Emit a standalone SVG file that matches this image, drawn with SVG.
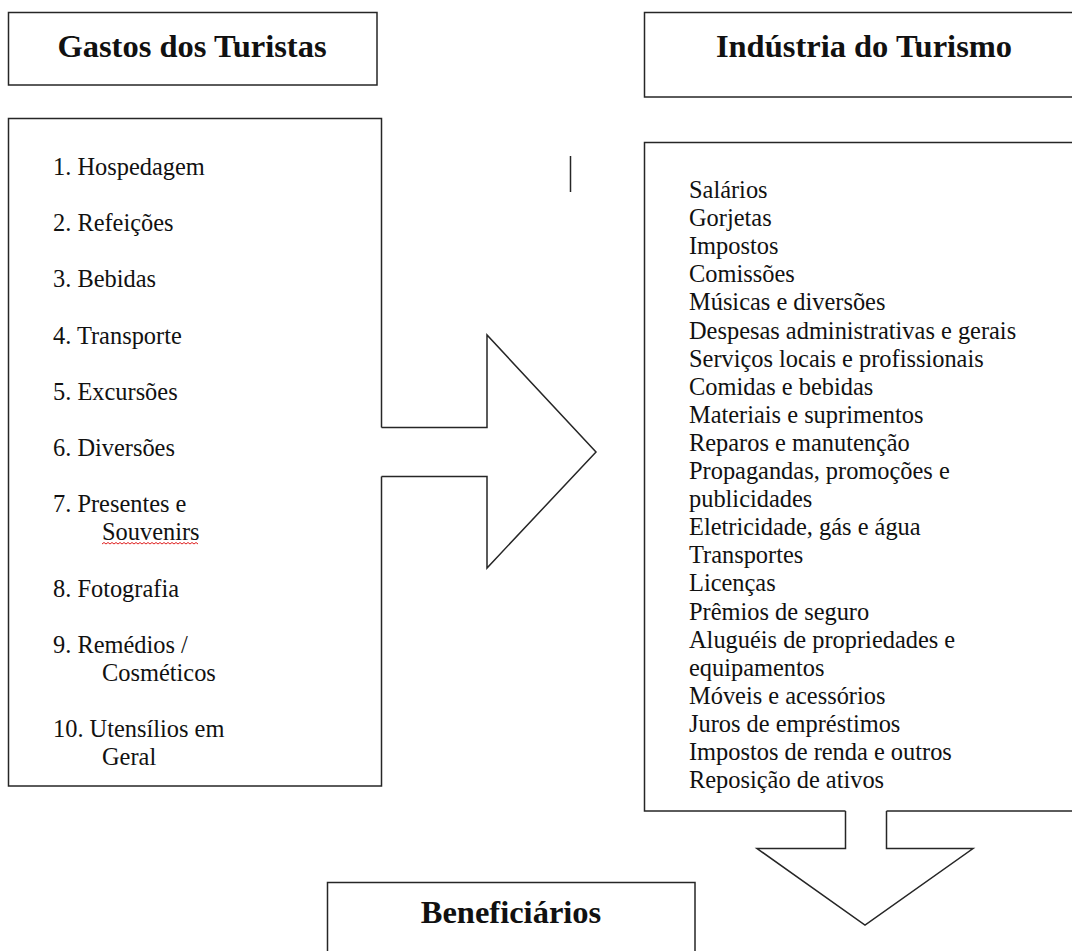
<svg xmlns="http://www.w3.org/2000/svg" width="1072" height="951" viewBox="0 0 1072 951">
<style>
.box{fill:#fff;stroke:#262626;stroke-width:1.5}
.edge{fill:none;stroke:#262626;stroke-width:1.5;stroke-linejoin:miter}
.cover{fill:#fff;stroke:none}
.title{font-family:"Liberation Serif","Times New Roman",serif;font-weight:bold;font-size:32.5px;fill:#111;text-anchor:middle}
.item{font-family:"Liberation Serif","Times New Roman",serif;font-size:24.4px;fill:#111}
</style>
<rect width="1072" height="951" fill="#fff"/>
<g id="node-gastos-title">
<rect class="box" x="8.5" y="12.5" width="368.5" height="72.5"/>
<text class="title" x="192" y="57">Gastos dos Turistas</text>
</g>
<g id="node-industria-title">
<rect class="box" x="644.5" y="12.5" width="440" height="84.5"/>
<text class="title" x="864" y="57">Indústria do Turismo</text>
</g>
<g id="node-gastos-list">
<rect class="box" x="8.5" y="118.5" width="373" height="667.5"/>
<text class="item" x="53" y="175">1. Hospedagem</text>
<text class="item" x="53" y="231">2. Refeições</text>
<text class="item" x="53" y="287">3. Bebidas</text>
<text class="item" x="53" y="343.5">4. Transporte</text>
<text class="item" x="53" y="399.5">5. Excursões</text>
<text class="item" x="53" y="456">6. Diversões</text>
<text class="item" x="53" y="512">7. Presentes e</text>
<text class="item" x="102" y="540">Souvenirs</text>
<path d="M102,544 l2,-1.5 l2,1.5 l2,-1.5 l2,1.5 l2,-1.5 l2,1.5 l2,-1.5 l2,1.5 l2,-1.5 l2,1.5 l2,-1.5 l2,1.5 l2,-1.5 l2,1.5 l2,-1.5 l2,1.5 l2,-1.5 l2,1.5 l2,-1.5 l2,1.5 l2,-1.5 l2,1.5 l2,-1.5 l2,1.5 l2,-1.5 l2,1.5 l2,-1.5 l2,1.5 l2,-1.5 l2,1.5 l2,-1.5 l2,1.5 l2,-1.5 l2,1.5 l2,-1.5 l2,1.5 l2,-1.5 l2,1.5 l2,-1.5 l2,1.5 l2,-1.5 l2,1.5 l2,-1.5 l2,1.5 l2,-1.5 l2,1.5 l2,-1.5 l2,1.5" fill="none" stroke="#e02020" stroke-width="1"/>
<text class="item" x="53" y="596.5">8. Fotografia</text>
<text class="item" x="53" y="652.5">9. Remédios /</text>
<text class="item" x="102" y="680.5">Cosméticos</text>
<text class="item" x="53" y="737">10. Utensílios em</text>
<text class="item" x="102" y="765">Geral</text>
</g>
<g id="node-industria-list">
<rect class="box" x="644.5" y="142.5" width="440" height="668.5"/>
<text class="item" x="689">
<tspan x="689" y="198">Salários</tspan>
<tspan x="689" y="226.1">Gorjetas</tspan>
<tspan x="689" y="254.2">Impostos</tspan>
<tspan x="689" y="282.3">Comissões</tspan>
<tspan x="689" y="310.4">Músicas e diversões</tspan>
<tspan x="689" y="338.5">Despesas administrativas e gerais</tspan>
<tspan x="689" y="366.6">Serviços locais e profissionais</tspan>
<tspan x="689" y="394.7">Comidas e bebidas</tspan>
<tspan x="689" y="422.8">Materiais e suprimentos</tspan>
<tspan x="689" y="450.9">Reparos e manutenção</tspan>
<tspan x="689" y="479">Propagandas, promoções e</tspan>
<tspan x="689" y="507.1">publicidades</tspan>
<tspan x="689" y="535.2">Eletricidade, gás e água</tspan>
<tspan x="689" y="563.3">Transportes</tspan>
<tspan x="689" y="591.4">Licenças</tspan>
<tspan x="689" y="619.5">Prêmios de seguro</tspan>
<tspan x="689" y="647.6">Aluguéis de propriedades e</tspan>
<tspan x="689" y="675.7">equipamentos</tspan>
<tspan x="689" y="703.8">Móveis e acessórios</tspan>
<tspan x="689" y="731.9">Juros de empréstimos</tspan>
<tspan x="689" y="760">Impostos de renda e outros</tspan>
<tspan x="689" y="788.1">Reposição de ativos</tspan>
</text>
</g>
<g id="node-beneficiarios">
<rect class="box" x="327.5" y="882.5" width="367.5" height="80"/>
<text class="title" x="511" y="923">Beneficiários</text>
</g>
<g id="connectors">
<polygon class="cover" points="379,427.5 487,427.5 487,335 596,452 487,568 487,476.5 379,476.5"/>
<polyline class="edge" points="381.5,427.5 487,427.5 487,335 596,452 487,568 487,476.5 381.5,476.5"/>
<polygon class="cover" points="845.5,808 845.5,848.5 757,848.5 865,925 973,848.5 886.5,848.5 886.5,808"/>
<polyline class="edge" points="845.5,811 845.5,848.5 757,848.5 865,925 973,848.5 886.5,848.5 886.5,811"/>
<line class="edge" x1="570.5" y1="156" x2="570.5" y2="192"/>
</g>
</svg>
